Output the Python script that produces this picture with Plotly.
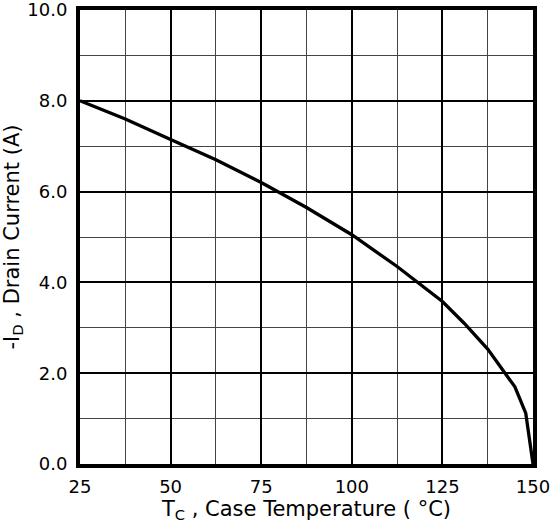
import plotly.graph_objects as go

temp_c = [25, 37.5, 50, 62.5, 75, 87.5, 100, 112.5, 125, 131, 137.5, 142, 145, 148, 150]
drain_a = [8.0, 7.6, 7.15, 6.7, 6.2, 5.65, 5.05, 4.35, 3.58, 3.1, 2.53, 2.05, 1.7, 1.12, 0.0]

x_ticks = [25, 50, 75, 100, 125, 150]
y_ticks = [0, 2, 4, 6, 8, 10]
y_tick_text = ["0.0", "2.0", "4.0", "6.0", "8.0", "10.0"]

fig = go.Figure()
fig.add_trace(go.Scatter(x=temp_c, y=drain_a, mode="lines",
                         line=dict(color="black", width=3.3), showlegend=False))

font = dict(family="DejaVu Sans, Liberation Sans, Arial, sans-serif", color="black")
fig.update_layout(
    width=552, height=531,
    margin=dict(l=80, r=19, t=10, b=67),
    paper_bgcolor="white", plot_bgcolor="white",
    font=dict(size=18, **font),
    xaxis=dict(range=[25, 150], tickvals=x_ticks, ticks="", showline=True, mirror=True,
               automargin=False, ticklabelstandoff=3, ticklabeloverflow="allow",
               linecolor="black", linewidth=4, showgrid=True, gridcolor="black", gridwidth=2.4,
               zeroline=False,
               minor=dict(dtick=12.5, tick0=25, showgrid=True, gridcolor="#444", gridwidth=1.4),
               tickfont=dict(size=18, **font),
               title=dict(text="T<sub>C</sub> , Case Temperature ( °C)", font=dict(size=21, **font), standoff=6)),
    yaxis=dict(range=[0, 10], tickvals=y_ticks, ticktext=y_tick_text, ticks="", showline=True, mirror=True,
               automargin=False, ticklabelstandoff=5, ticklabeloverflow="allow",
               linecolor="black", linewidth=4, showgrid=True, gridcolor="black", gridwidth=2.4,
               zeroline=False,
               minor=dict(dtick=1, tick0=0, showgrid=True, gridcolor="#444", gridwidth=1.4),
               tickfont=dict(size=18, **font),
               title=dict(text="-I<sub>D</sub> , Drain Current (A)", font=dict(size=21, **font), standoff=7)),
)
fig.write_html("out.html", config={"displayModeBar": False},
               post_script="document.body.style.margin='0';document.body.style.overflow='hidden';")
